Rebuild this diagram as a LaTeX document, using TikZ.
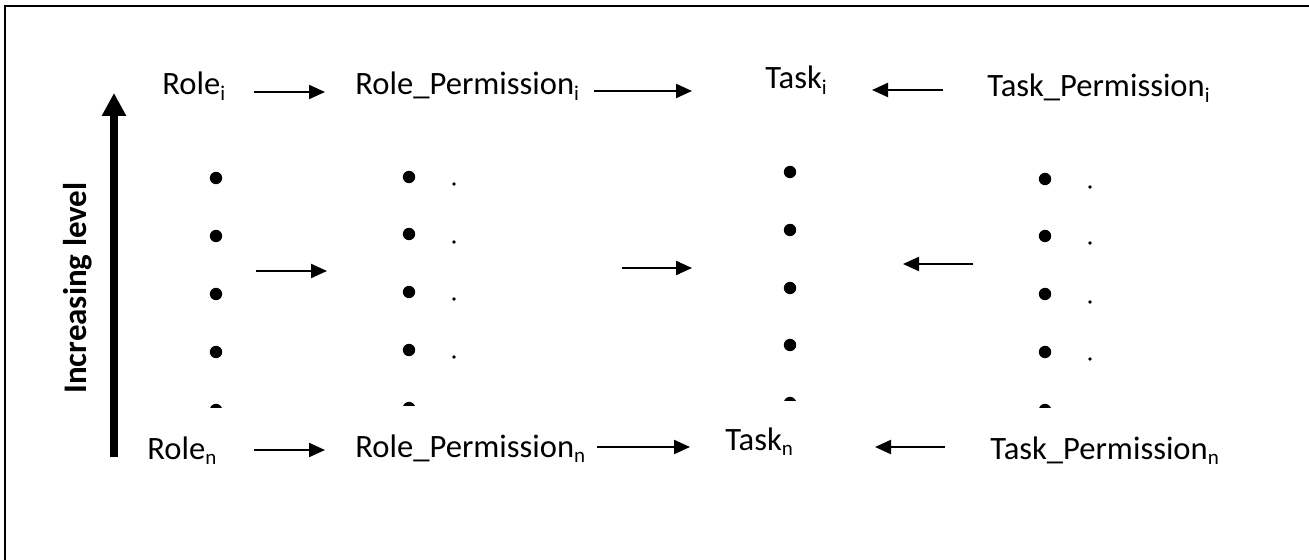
\documentclass[tikz,border=0pt]{standalone}
\usepackage{fontspec}
\setmainfont{Carlito}
\usetikzlibrary{arrows.meta}
% small lowered index, as in Role_i
\newcommand\lowidx[1]{\raisebox{-0.18em}{\fontsize{10.5}{12}\selectfont #1}}
\begin{document}
\begin{tikzpicture}[x=0.5pt,y=-0.5pt,
  lbl/.style={anchor=base west,inner sep=0pt,font=\fontsize{16.3}{19}\selectfont},
  flow/.style={line width=1.1pt,-{Triangle[length=8pt,width=7pt]}},
  bigdot/.style={circle,fill=black,inner sep=0pt,minimum size=6.2pt},
  smalldot/.style={circle,fill=black,inner sep=0pt,minimum size=1.8pt},
  frame/.style={line width=1pt},
  levelarrow/.style={line width=4pt,-{Triangle[length=11.5pt,width=11.5pt]}}]
\useasboundingbox (0,0) rectangle (1309,560);
% open frame: top and left edges
\draw[frame] (5,560) -- (5,6) -- (1309,6);

% level arrow and its label
\coordinate (lvlbot) at (114,457);
\coordinate (lvltop) at (114,93);
\draw[levelarrow] (lvlbot) -- (lvltop);
\node[rotate=90,inner sep=0pt,font=\fontsize{16.5}{19}\selectfont\bfseries] (lvl) at (78,288) {Increasing level};

% top row
\node[lbl] (ri)  at (162,95) {Role\lowidx{i}};
\node[lbl] (rpi) at (355,95) {Role\_Permission\lowidx{i}};
\node[lbl] (ti)  at (765,89) {Task\lowidx{i}};
\node[lbl] (tpi) at (987,97) {Task\_Permission\lowidx{i}};

% bottom row
\node[lbl] (rn)  at (147,459) {Role\lowidx{n}};
\node[lbl] (rpn) at (355,457) {Role\_Permission\lowidx{n}};
\node[lbl] (tn)  at (725,450) {Task\lowidx{n}};
\node[lbl] (tpn) at (990,459) {Task\_Permission\lowidx{n}};

% arrow end points
\coordinate (a1s) at (254,92);  \coordinate (a1e) at (325,92);
\coordinate (a2s) at (594,91);  \coordinate (a2e) at (692,91);
\coordinate (a3s) at (943,90);  \coordinate (a3e) at (872,90);
\coordinate (b1s) at (256,271); \coordinate (b1e) at (327,271);
\coordinate (b2s) at (622,268); \coordinate (b2e) at (692,268);
\coordinate (b3s) at (973,264); \coordinate (b3e) at (903,264);
\coordinate (c1s) at (254,450); \coordinate (c1e) at (325,450);
\coordinate (c2s) at (597,447); \coordinate (c2e) at (690,447);
\coordinate (c3s) at (945,447); \coordinate (c3e) at (875,447);

\foreach \a in {a,b,c}{
  \draw[flow] (\a1s) -- (\a1e);
  \draw[flow] (\a2s) -- (\a2e);
  \draw[flow] (\a3s) -- (\a3e);
}

% bullet columns
\foreach \y [count=\k] in {178,236,294,352} \node[bigdot] (d1\k) at (216,\y) {};
\foreach \y [count=\k] in {177,234,292,350} \node[bigdot] (d2\k) at (409,\y) {};
\foreach \y [count=\k] in {172,230,288,345} \node[bigdot] (d3\k) at (790,\y) {};
\foreach \y [count=\k] in {179,236,294,352} \node[bigdot] (d4\k) at (1045,\y) {};
\foreach \y [count=\k] in {184,242,299,357} \node[smalldot] (s2\k) at (454,\y) {};
\foreach \y [count=\k] in {187,243,302,359} \node[smalldot] (s4\k) at (1090,\y) {};

% cut-off last bullets
\foreach \x/\y/\c in {216/410/407, 409/408/405, 790/403/400, 1045/410/407}{
  \begin{scope}
    \clip (\x-10,\y-10) rectangle (\x+10,\c);
    \fill (\x,\y) circle (3.1pt);
  \end{scope}
}
\end{tikzpicture}
\end{document}
